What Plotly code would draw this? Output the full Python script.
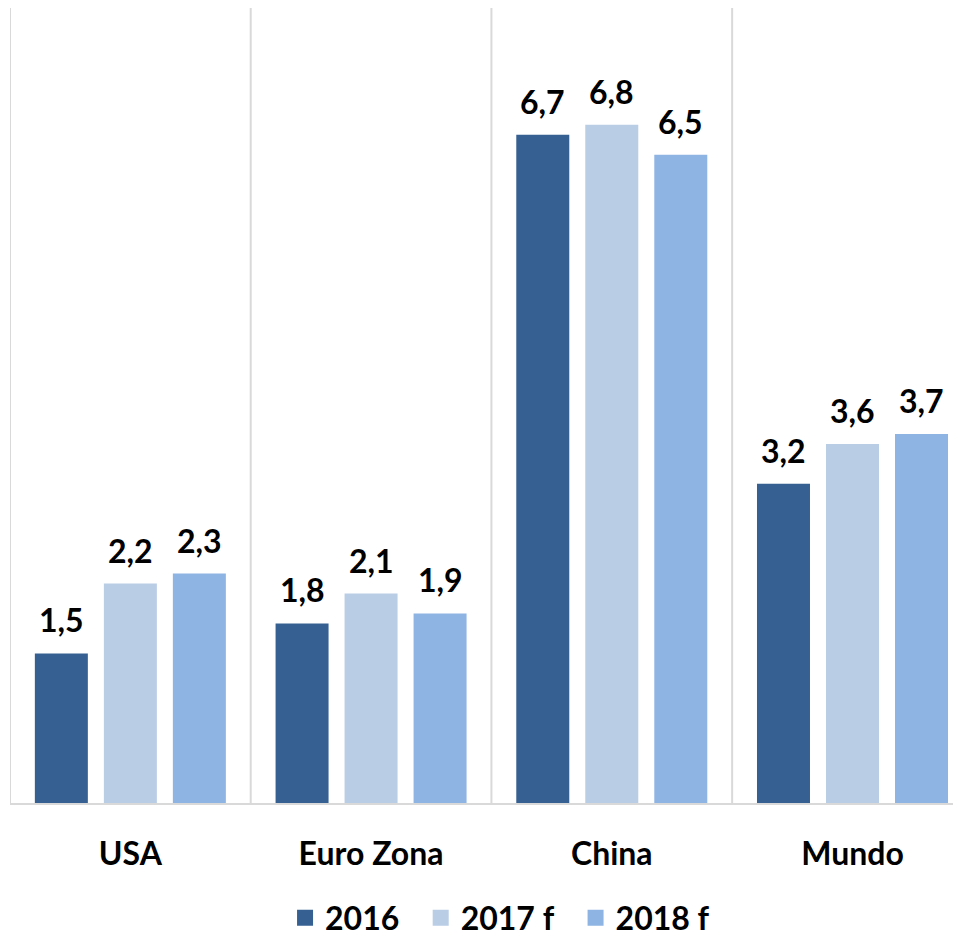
import plotly.graph_objects as go

categories = ["USA", "Euro Zona", "China", "Mundo"]
series_names = ["2016", "2017 f", "2018 f"]
v2016 = [1.5, 1.8, 6.7, 3.2]
v2017 = [2.2, 2.1, 6.8, 3.6]
v2018 = [2.3, 1.9, 6.5, 3.7]
colors = ["#376092", "#B9CDE5", "#8EB4E3"]

FONT = "Lato, 'Open Sans', sans-serif"
FS = 32

fig = go.Figure()
all_vals = [v2016, v2017, v2018]
for name, vals, col in zip(series_names, all_vals, colors):
    fig.add_trace(go.Bar(x=categories, y=vals, name=name, marker_color=col,
                         marker_line_width=0, showlegend=False))
# legend entries with larger square swatches
for j, (name, col) in enumerate(zip(series_names, colors)):
    pad = "\u00a0\u00a0" if j < len(series_names) - 1 else ""
    fig.add_trace(go.Scatter(x=[None], y=[None], mode="markers", name="<b>" + name + "</b>" + pad,
                             marker=dict(symbol="square", size=20, color=col)))

# value labels
slot = 69
for i, vals in enumerate(all_vals):
    for c, v in zip(categories, vals):
        fig.add_annotation(x=c, y=v, xref="x", yref="y", text="<b>" + f"{v:.1f}".replace(".", ",") + "</b>",
                           showarrow=False, yanchor="bottom", yshift=12, xshift=(i - 1) * slot,
                           font=dict(family=FONT, size=FS, color="#000000"))

YMAX = 7.97
# vertical category separators
for k in range(len(categories)):
    fig.add_shape(type="line", xref="x", yref="y", x0=k - 0.5, x1=k - 0.5, y0=0, y1=YMAX,
                  line=dict(color="#D9D9D9", width=2), layer="below")

fig.update_layout(
    width=961, height=936,
    margin=dict(l=2, r=0, t=0, b=141, autoexpand=False),
    paper_bgcolor="white", plot_bgcolor="white",
    barmode="group", bargap=0.14, bargroupgap=0.232,
    showlegend=True,
    legend=dict(orientation="h", x=0.511, xanchor="center", y=-0.1447, yanchor="middle",
                font=dict(family=FONT, size=FS, color="#000000"),
                itemsizing="trace", traceorder="normal"),
    font=dict(family=FONT),
)
fig.update_xaxes(range=[-0.5, 3.484], showgrid=False, showline=True, linecolor="#D9D9D9", linewidth=2,
                 ticks="", tickfont=dict(family=FONT, size=FS, color="#000000"),
                 ticklabelstandoff=22, tickprefix="<b>", ticksuffix="</b>")
fig.update_yaxes(range=[0, YMAX], showgrid=False, showticklabels=False, zeroline=False, showline=False)

fig.write_html("out.html")
